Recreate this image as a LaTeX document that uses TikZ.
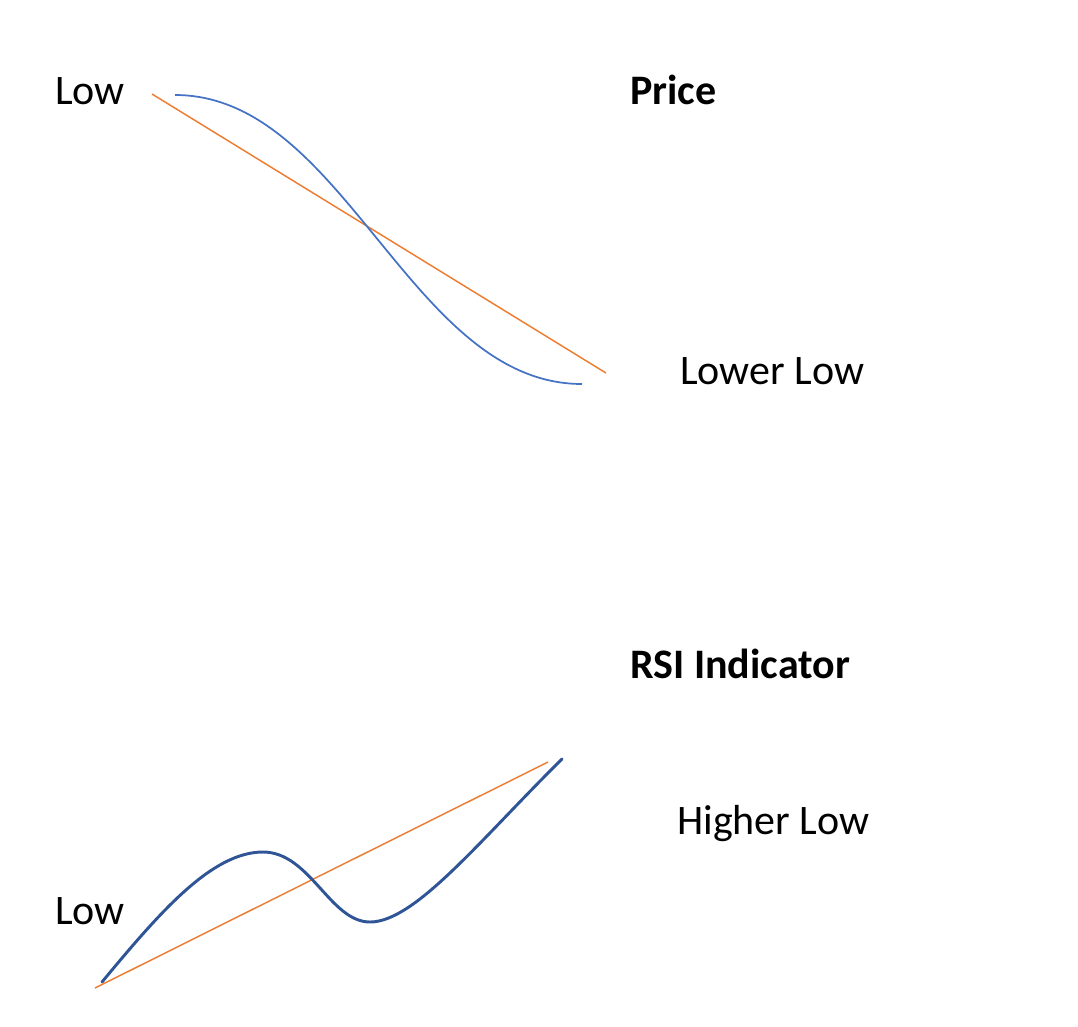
\documentclass[tikz,border=0pt]{standalone}
\usepackage{fontspec}
\setmainfont{Carlito}
\definecolor{trendorange}{HTML}{ED7D31}
\definecolor{priceblue}{HTML}{4472C4}
\definecolor{rsiblue}{HTML}{2F5597}
\begin{document}
\begin{tikzpicture}[x=0.75pt,y=-0.75pt,
  lbl/.style={anchor=base west,inner sep=0pt,font=\fontsize{31.5}{36}\selectfont},
  ttl/.style={lbl,font=\fontsize{31.5}{36}\selectfont\bfseries},
  trend/.style={draw=trendorange,line width=1.1pt},
  pricecurve/.style={draw=priceblue,line width=1.3pt},
  rsicurve/.style={draw=rsiblue,line width=2.2pt,line cap=round}]
\useasboundingbox (0,0) rectangle (1078,1026);
% labels
\node[lbl] (lowtop) at (55,104) {Low};
\node[ttl] (price) at (630,104) {Price};
\node[lbl] (lowerlow) at (680,384) {Lower Low};
\node[ttl] (rsi) at (630,678) {RSI Indicator};
\node[lbl] (higherlow) at (677,834) {Higher Low};
\node[lbl] (lowbot) at (55,924) {Low};
% price chart
\coordinate (pa) at (152,94);
\coordinate (pb) at (606,373);
\draw[trend] (pa) -- (pb);
\coordinate (ps) at (175,95);
\coordinate (pe) at (582,384);
\draw[pricecurve] (ps) .. controls (345,95) and (410,384) .. (pe);
% RSI chart
\coordinate (ra) at (95,988);
\coordinate (rb) at (548,762);
\draw[trend] (ra) -- (rb);
\coordinate (r0) at (102,982);
\coordinate (r1) at (263,852);
\coordinate (r2) at (370,922);
\coordinate (r3) at (562,759);
\draw[rsicurve] (r0) .. controls (160,912) and (212,852) .. (r1)
  .. controls (310,852) and (330,922) .. (r2)
  .. controls (415,922) and (480,840) .. (r3);
\end{tikzpicture}
\end{document}
